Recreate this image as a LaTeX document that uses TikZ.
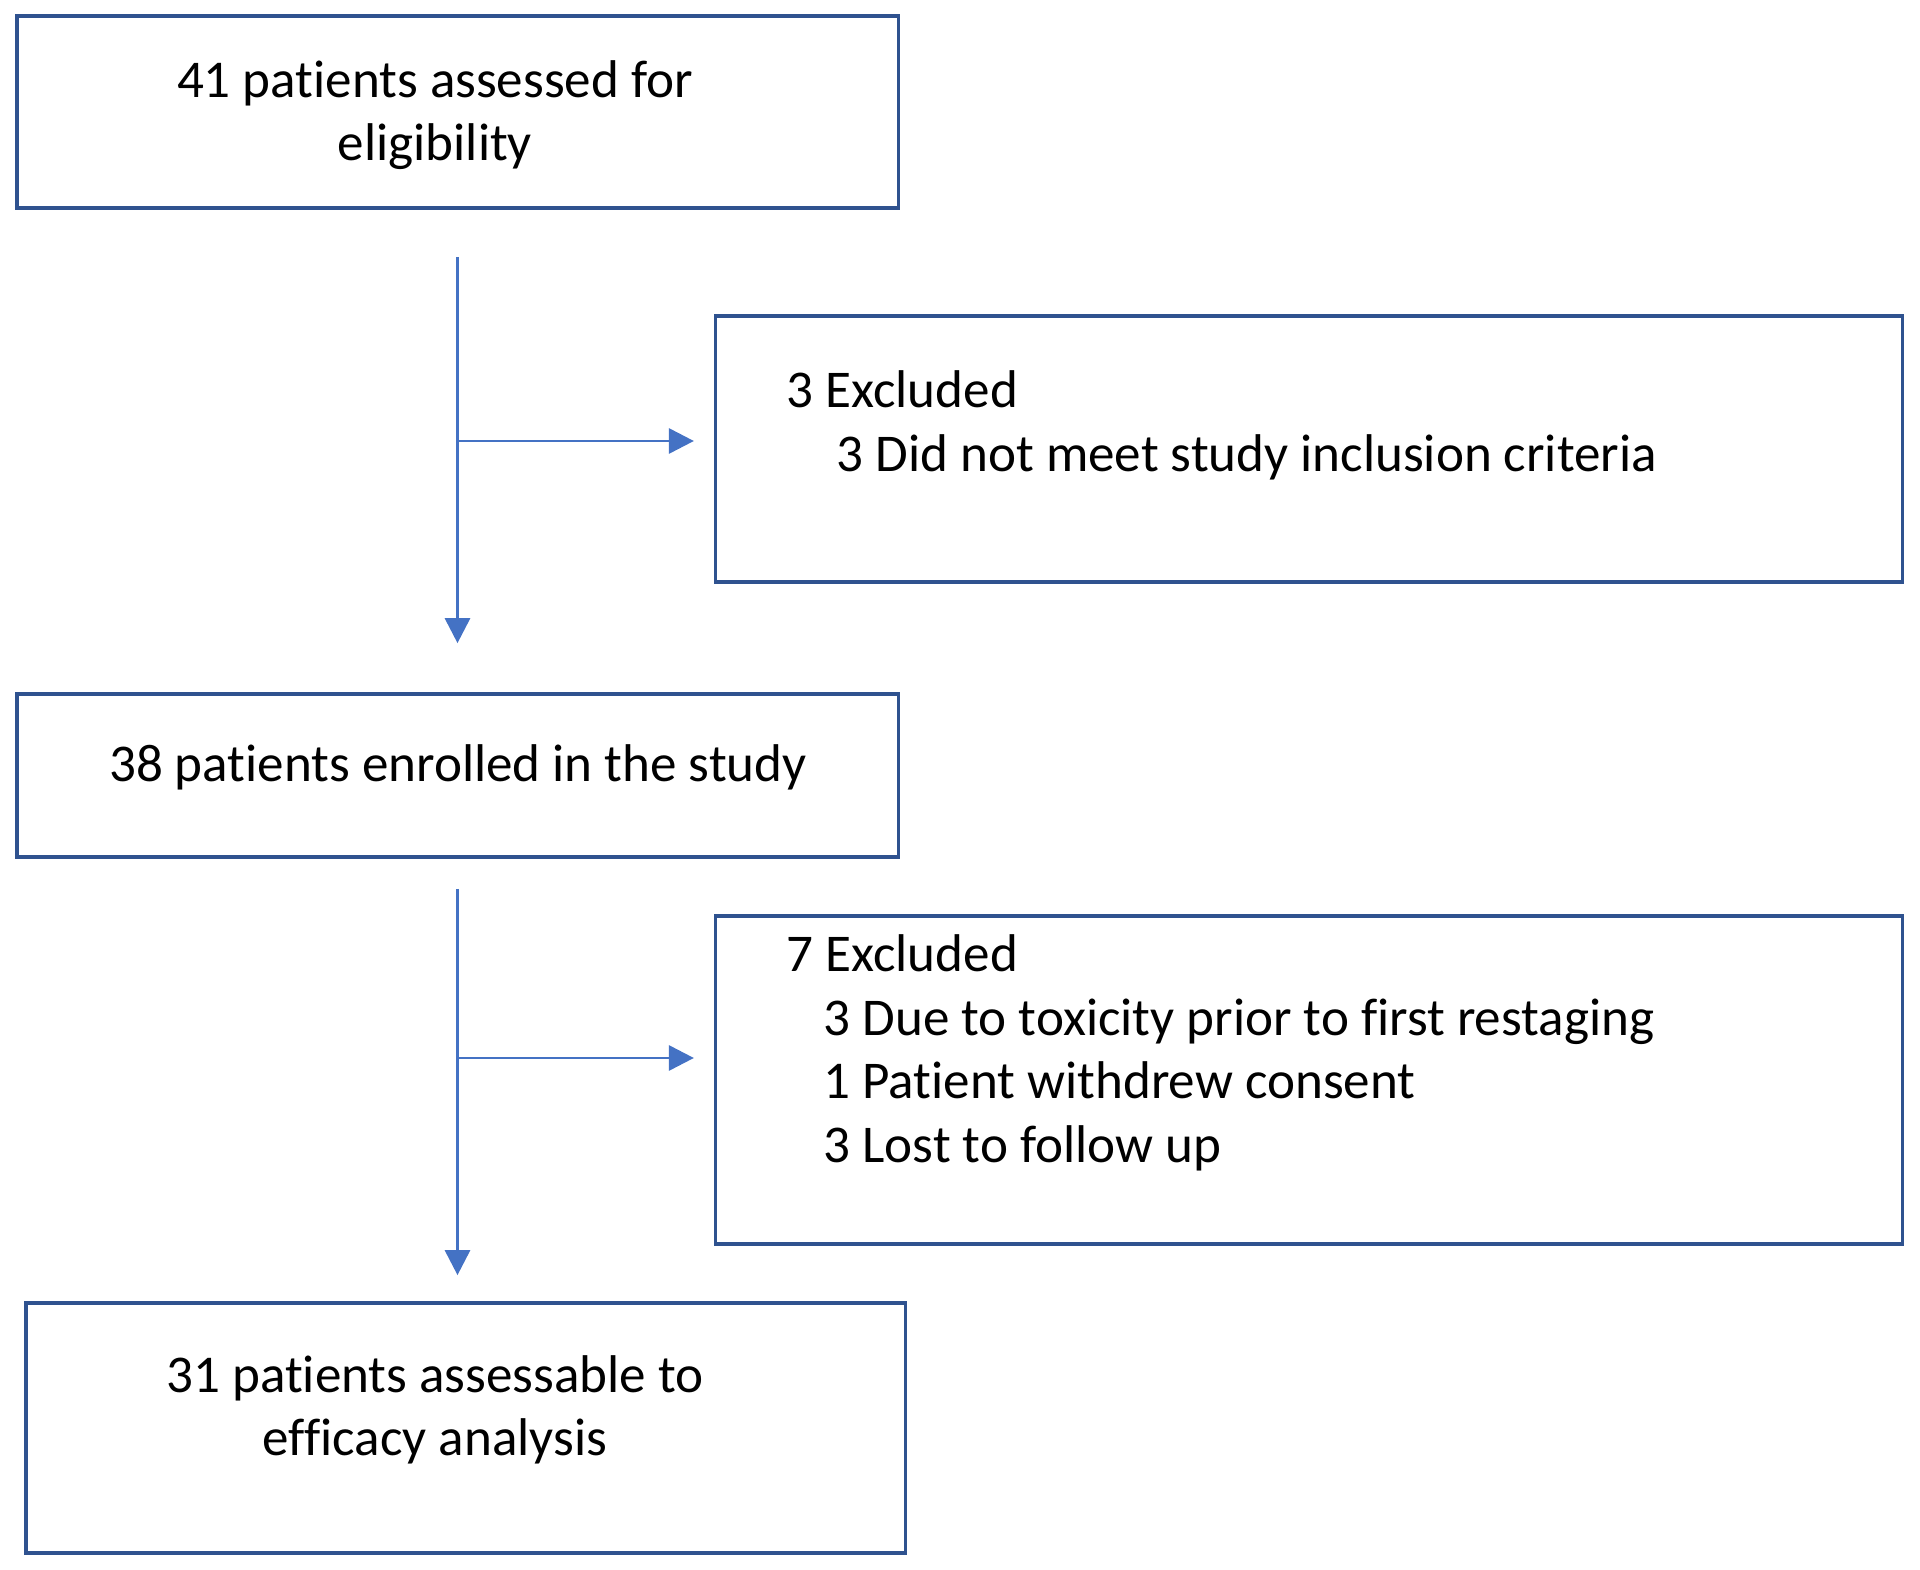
\documentclass[tikz,border=0pt]{standalone}
\usepackage{fontspec}
\setmainfont{Carlito}[Ligatures=NoCommon]
\usepackage{tikz}
\usetikzlibrary{arrows.meta, calc, positioning}
\definecolor{boxblue}{HTML}{2F528F}
\definecolor{arrowblue}{HTML}{4472C4}
\tikzstyle{flowbox}=[draw=boxblue,line width=1pt,rectangle,inner sep=0pt]
\tikzstyle{boxtext}=[inner sep=0pt,font=\fontsize{15.1}{18.1}\selectfont]
\tikzstyle{flowArrow}=[draw=arrowblue,line width=0.85pt,-{Triangle[length=0.25cm,width=0.25cm]}]

\begin{document}
\begin{tikzpicture}[x=0.01cm,y=-0.01cm]
    \useasboundingbox (0,0) rectangle (1920,1570);

    \node (b1)[flowbox,minimum width=8.81cm,minimum height=1.92cm] at (457.5,112) {};
    \node (b2)[flowbox,minimum width=11.86cm,minimum height=2.66cm] at (1309,449) {};
    \node (b3)[flowbox,minimum width=8.81cm,minimum height=1.63cm] at (457.5,775.5) {};
    \node (b4)[flowbox,minimum width=11.86cm,minimum height=3.28cm] at (1309,1080) {};
    \node (b5)[flowbox,minimum width=8.79cm,minimum height=2.50cm] at (465.5,1428) {};

    \node (t1)[boxtext,align=center] at (435,115) {41 patients assessed for\\eligibility};
    \node (t2)[boxtext,align=left,anchor=north west] at (786,370) {3 Excluded\\\hspace*{0.5cm}3 Did not meet study inclusion criteria};
    \node (t3)[boxtext] at (458,767) {38 patients enrolled in the study};
    \node (t4)[boxtext,align=left,anchor=north west] at (786,934) {7 Excluded\\\hspace*{0.37cm}3 Due to toxicity prior to first restaging\\\hspace*{0.37cm}1 Patient withdrew consent\\\hspace*{0.37cm}3 Lost to follow up};
    \node (t5)[boxtext,align=center] at (435,1410) {31 patients assessable to\\efficacy analysis};

    \coordinate (j1) at (457.5,441);
    \coordinate (j2) at (457.5,1058);

    \draw[flowArrow,shorten <=0.47cm,shorten >=0.49cm] (b1.south) -- (b3.north);
    \draw[flowArrow,shorten >=0.2cm] (j1) -- (j1 -| b2.west);

    \draw[flowArrow,shorten <=0.30cm,shorten >=0.26cm] (b3.south) -- (b3.south |- b5.north);
    \draw[flowArrow,shorten >=0.2cm] (j2) -- (j2 -| b4.west);

\end{tikzpicture}
\end{document}
